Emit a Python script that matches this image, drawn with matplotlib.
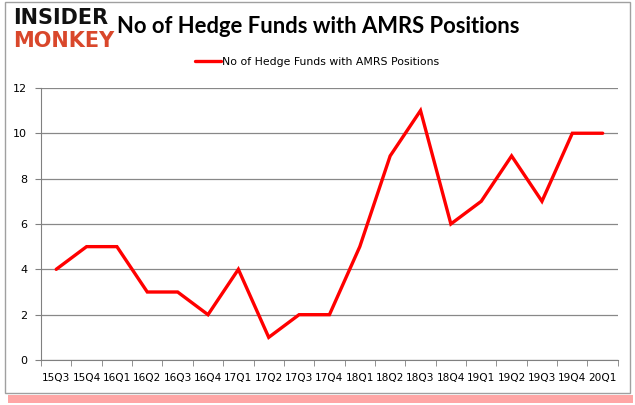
import matplotlib
matplotlib.use("Agg")
import matplotlib.pyplot as plt
from matplotlib.patches import Rectangle

quarters = ["15Q3", "15Q4", "16Q1", "16Q2", "16Q3", "16Q4", "17Q1", "17Q2", "17Q3", "17Q4",
            "18Q1", "18Q2", "18Q3", "18Q4", "19Q1", "19Q2", "19Q3", "19Q4", "20Q1"]
funds = [4, 5, 5, 3, 3, 2, 4, 1, 2, 2, 5, 9, 11, 6, 7, 9, 7, 10, 10]
yticks = [0, 2, 4, 6, 8, 10, 12]
series_name = "No of Hedge Funds with AMRS Positions"

fig = plt.figure(figsize=(6.35, 4.05), dpi=100)
fig.patch.set_facecolor("white")

# frame with red shadow
fig.add_artist(Rectangle((0.012, 0.005), 0.985, 0.02, transform=fig.transFigure,
                         facecolor="#ff0000", alpha=0.35, edgecolor="none", zorder=-2))
fig.add_artist(Rectangle((0.008, 0.03), 0.984, 0.965, transform=fig.transFigure,
                         facecolor="white", edgecolor="#a0a0a0", linewidth=1.0, zorder=-1))

ax = fig.add_axes([0.0646, 0.111, 0.9084, 0.672])
x = list(range(len(quarters)))
ax.plot(x, funds, color="#ff0000", linewidth=2.4, solid_capstyle="round",
        solid_joinstyle="miter", label=series_name)
ax.set_xlim(-0.5, len(quarters) - 0.5)
ax.set_ylim(0, 12)
ax.set_yticks(yticks)
ax.set_yticklabels([str(v) for v in yticks], fontsize=8)
ax.set_xticks(x)
ax.set_xticklabels(quarters, fontsize=7.6)
ax.set_xticks([i - 0.5 for i in range(len(quarters) + 1)], minor=True)
ax.tick_params(axis="x", which="major", length=0, pad=9)
ax.tick_params(axis="x", which="minor", length=4, color="#808080")
ax.tick_params(axis="y", length=4, color="#808080", pad=6)
ax.grid(axis="y", color="#888888", linewidth=0.9)
ax.set_axisbelow(True)
for s in ["top", "right"]:
    ax.spines[s].set_visible(False)
for s in ["left", "bottom"]:
    ax.spines[s].set_color("#808080")
ax.patch.set_alpha(0)

fig.legend(loc="center", bbox_to_anchor=(0.5, 0.847), frameon=False, fontsize=7.8,
           handlelength=2.4, handletextpad=0.1)

fig.text(0.185, 0.935, "No of Hedge Funds with AMRS Positions", fontsize=15.8,
         fontweight="bold", family="Lato", va="center", ha="left")
fig.text(0.02, 0.955, "INSIDER", fontsize=15, fontweight="heavy", family="DejaVu Sans",
         color="#111111", va="center", ha="left")
fig.text(0.02, 0.898, "MONKEY", fontsize=15, fontweight="heavy", family="DejaVu Sans",
         color="#d9472b", va="center", ha="left")

fig.savefig("out.png", dpi=100)
